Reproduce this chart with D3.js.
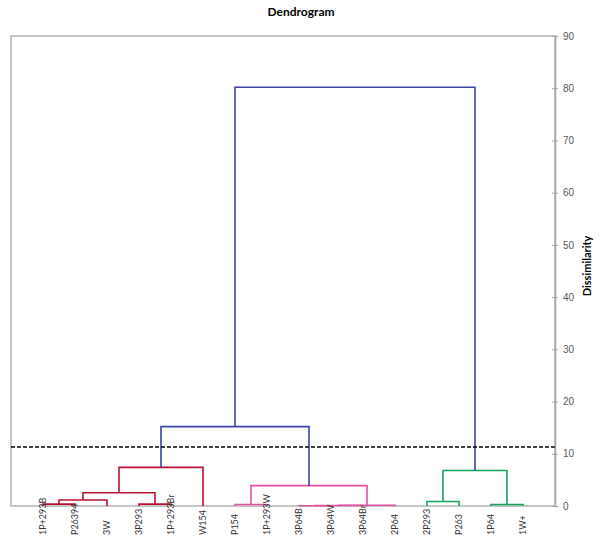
<!DOCTYPE html>
<html>
<head>
<meta charset="utf-8">
<script src="https://cdn.jsdelivr.net/npm/d3@7"></script>
<style>
  body { margin: 0; background: #fff; }
  svg { font-family: Lato, "Open Sans", sans-serif; }
</style>
</head>
<body>
<div id="plot"></div>
<script>
// leaf order, left to right
const leaves = ["1P+293B", "P26394", "3W", "3P293", "1P+293Br", "W154",
    "P154", "1P+293W", "3P64B", "3P64W", "3P64Br", "2P64",
    "2P293", "P263", "1P64", "1W+"];

// merges: [childA, childB, dissimilarity]; node ids continue after the leaves
const merges = [
    [0, 1, 0.35], [16, 2, 1.15], [3, 4, 0.35], [17, 18, 2.55], [19, 5, 7.4],
    [6, 7, 0.3], [8, 9, 0.05], [22, 10, 0.1], [23, 11, 0.15], [21, 24, 3.9],
    [20, 25, 15.2],
    [12, 13, 0.85], [14, 15, 0.3], [27, 28, 6.8],
    [26, 29, 80.2]
];
// cluster of each merge (same order as merges)
const mergeGroup = ["red", "red", "red", "red", "red",
    "pink", "pink", "pink", "pink", "pink",
    "blue",
    "green", "green", "green",
    "blue"];
const groupColors = {red: "#b8122e", pink: "#e2509f", green: "#12a55a", blue: "#3a43a6"};

const cutLevel = 11.3;
const yTicks = [0, 10, 20, 30, 40, 50, 60, 70, 80, 90];

const margin = {top: 36, right: 46, bottom: 38, left: 11},
    width = 601 - margin.left - margin.right,
    height = 544 - margin.top - margin.bottom;

const svg = d3.select("#plot")
    .append("svg")
    .attr("width", 601)
    .attr("height", 544)
    .append("g")
    .attr("transform", `translate(${margin.left},${margin.top})`);

const x = d3.scaleLinear()
    .domain([0, leaves.length + 1])
    .range([0, width]);

const y = d3.scaleLinear()
    .domain([0, 90])
    .range([height, 0]);

// frame
svg.append("rect")
    .attr("width", width)
    .attr("height", height)
    .attr("fill", "none")
    .attr("stroke", "#b3b3b3")
    .attr("stroke-width", 1.5);

// node positions
const nodeX = leaves.map((d, i) => x(i + 1));
const nodeH = leaves.map(() => 0);
merges.forEach(m => {
    nodeX.push((nodeX[m[0]] + nodeX[m[1]]) / 2);
    nodeH.push(m[2]);
});

// links
svg.append("g")
    .attr("fill", "none")
    .attr("stroke-width", 1.6)
    .selectAll("path")
    .data(merges)
    .join("path")
    .attr("stroke", (d, i) => groupColors[mergeGroup[i]])
    .attr("d", d => {
        const xa = nodeX[d[0]], xb = nodeX[d[1]];
        return `M${xa},${y(nodeH[d[0]])}V${y(d[2])}H${xb}V${y(nodeH[d[1]])}`;
    });

// cut line
svg.append("line")
    .attr("x1", 0)
    .attr("x2", width)
    .attr("y1", y(cutLevel))
    .attr("y2", y(cutLevel))
    .attr("stroke", "#000")
    .attr("stroke-width", 1.5)
    .attr("stroke-dasharray", "4,2");

// right axis
const yAxis = svg.append("g")
    .attr("transform", `translate(${width},0)`)
    .call(d3.axisRight(y).tickValues(yTicks).tickSize(3).tickPadding(5));
yAxis.select(".domain").attr("stroke", "#a6a6a6").attr("stroke-width", 1.5);
yAxis.selectAll(".tick line").attr("x1", -3).attr("stroke", "#a6a6a6");
yAxis.selectAll(".tick text")
    .attr("fill", "#595959")
    .style("font-size", "10px");

// leaf labels
svg.append("g")
    .selectAll("text")
    .data(leaves)
    .join("text")
    .attr("transform", (d, i) => `translate(${x(i + 1) + 3},${height + 29}) rotate(-90)`)
    .attr("text-anchor", "start")
    .attr("fill", "#333")
    .style("font-size", "9px")
    .text(d => d);

svg.append("text")
    .attr("transform", `translate(${width + 36},${height / 2 - 5}) rotate(-90)`)
    .attr("text-anchor", "middle")
    .style("font-size", "11px")
    .style("font-weight", "bold")
    .text("Dissimilarity");

svg.append("text")
    .attr("x", 301 - margin.left)
    .attr("y", 16 - margin.top)
    .attr("text-anchor", "middle")
    .style("font-size", "12px")
    .style("font-weight", "bold")
    .text("Dendrogram");
</script>
</body>
</html>
